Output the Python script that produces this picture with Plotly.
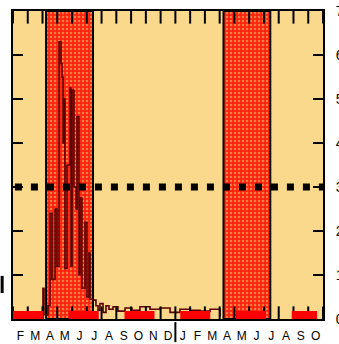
import plotly.graph_objects as go

# ---- data (x in months since 1 Feb of year 1) ----
month_labels = ["F", "M", "A", "M", "J", "J", "A", "S", "O", "N", "D",
                "J", "F", "M", "A", "M", "J", "J", "A", "S", "O"]
y_ticks = [0, 1, 2, 3, 4, 5, 6, 7]

series_x = [0.00, 2.03, 2.10, 2.24, 2.37, 2.51, 2.64, 2.85, 2.98, 3.12, 3.25,
            3.32, 3.39, 3.46, 3.52, 3.66, 3.86, 3.93, 4.00, 4.13, 4.27, 4.34,
            4.47, 4.54, 4.67, 4.88, 5.01, 5.15, 5.22, 5.42, 5.62, 5.76, 5.89,
            6.10, 6.30, 6.50, 6.78, 7.11, 7.59, 8.06, 8.60, 9.28, 9.96, 10.64,
            11.31, 11.99, 12.67, 13.35, 14.02]
series_y = [0.02, 0.70, 0.10, 0.10, 0.30, 2.40, 0.90, 2.50, 1.20, 6.30, 5.80,
            5.50, 4.00, 5.00, 1.15, 3.50, 5.25, 1.20, 5.20, 3.00, 2.50, 4.60,
            1.00, 2.75, 0.70, 2.20, 0.50, 1.50, 0.45, 0.43, 0.30, 0.20, 0.35,
            0.15, 0.30, 0.22, 0.28, 0.18, 0.25, 0.20, 0.28, 0.22, 0.25, 0.15,
            0.22, 0.20, 0.18, 0.22, 0.05]

season_start = [2.24, 14.26]
season_end = [5.42, 17.43]
season_top = 7

threshold = 3.0
baseline = 0.0
x_end = 21
y_min, y_max = 0, 7

season_center = [(a + b) / 2 for a, b in zip(season_start, season_end)]
season_width = [b - a for a, b in zip(season_start, season_end)]
month_centers = [i + 0.5 for i in range(len(month_labels))]
month_edges = list(range(0, x_end + 1))

fig = go.Figure()

# shaded seasons (speckled red)
fig.add_trace(go.Bar(x=season_center, y=[season_top] * 2, width=season_width,
                     base=0,
                     marker=dict(color="#FF2410", line=dict(color="black", width=2),
                                 pattern=dict(shape=".", bgcolor="#FF2410",
                                              fgcolor="#FFD878", size=4,
                                              solidity=0.3)),
                     hoverinfo="skip", showlegend=False))
# data line
fig.add_trace(go.Scatter(x=series_x, y=series_y, mode="lines",
                         line=dict(color="#5a0000", width=1.6, shape="hv"),
                         hoverinfo="skip", showlegend=False))
# month-boundary tick marks on top and bottom frame (clipped to plot area)
fig.add_trace(go.Scatter(x=month_edges * 2,
                         y=[y_min] * len(month_edges) + [y_max] * len(month_edges),
                         mode="markers", cliponaxis=True,
                         marker=dict(symbol="line-ns", size=18, color="black",
                                     line=dict(color="black", width=2)),
                         hoverinfo="skip", showlegend=False))
# dotted threshold
fig.add_trace(go.Scatter(x=[0.13, x_end], y=[threshold, threshold], mode="lines",
                         line=dict(color="black", width=7, dash="7px,9px"),
                         hoverinfo="skip", showlegend=False))
# red dashed baseline
fig.add_trace(go.Scatter(x=[0, 20.6], y=[baseline, baseline], mode="lines",
                         line=dict(color="#FF0000", width=16, dash="30px,25.75px"),
                         hoverinfo="skip", showlegend=False))

fig.update_layout(
    width=339, height=344,
    margin=dict(l=13, r=16, t=11, b=25),
    paper_bgcolor="white", plot_bgcolor="#FAD88C",
    barmode="overlay", showlegend=False,
    font=dict(family="Liberation Sans, Arial, sans-serif", color="#000"),
    xaxis=dict(range=[0, x_end], showgrid=False, zeroline=False, automargin=False,
               showline=True, linecolor="black", linewidth=2, mirror=True,
               layer="above traces",
               tickmode="array", tickvals=month_centers, ticktext=month_labels,
               ticks="", tickfont=dict(size=12), ticklabelstandoff=5),
    yaxis=dict(range=[y_min, y_max], side="right", showgrid=False, zeroline=False,
               automargin=False, layer="above traces",
               showline=True, linecolor="black", linewidth=2, mirror="ticks",
               tickvals=y_ticks, ticks="inside", ticklen=10, tickwidth=2,
               tickcolor="black", tickfont=dict(size=14), ticklabelstandoff=8),
    shapes=[
        dict(type="line", xref="x", yref="paper", x0=11, x1=11, y0=-0.01,
             y1=-0.075, line=dict(color="black", width=2)),
        dict(type="line", xref="paper", yref="y", x0=-0.035, x1=-0.035,
             y0=0.59, y1=0.98, line=dict(color="black", width=3)),
    ],
)

fig.write_html("out.html",
               config={"displayModeBar": False},
               post_script="document.body.style.margin='0';"
                           "document.body.style.overflow='hidden';")
